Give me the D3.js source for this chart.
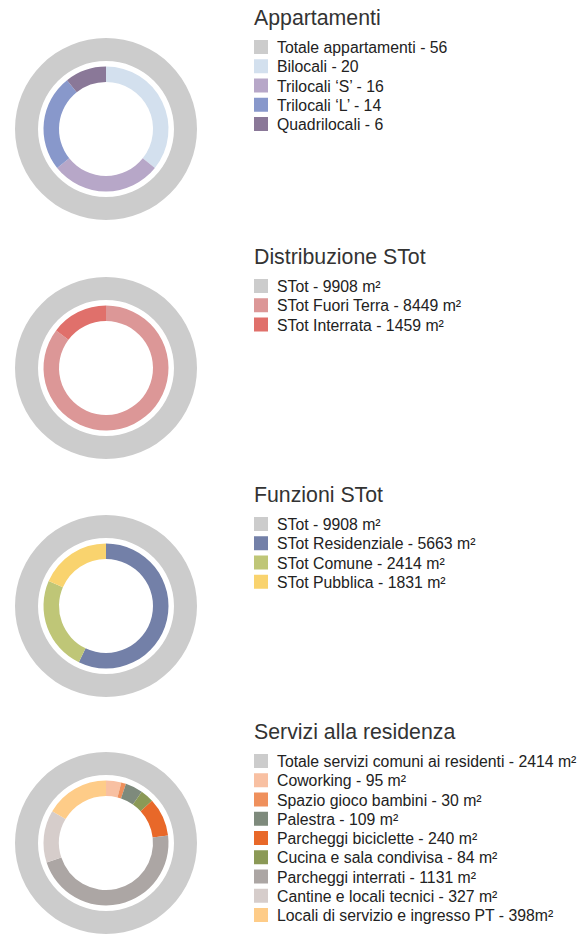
<!DOCTYPE html>
<html>
<head>
<meta charset="utf-8">
<script src="https://cdn.jsdelivr.net/npm/d3@7"></script>
<style>
  body { margin: 0; background: #fff; }
  svg { display: block; font-family: "Liberation Sans", Arial, sans-serif; }
</style>
</head>
<body>
<script>
// dati
const apptTitle = "Appartamenti";
const apptTotal = "Totale appartamenti - 56";
const apptLabels = ["Bilocali - 20", "Trilocali \u2018S\u2019 - 16", "Trilocali \u2018L\u2019 - 14", "Quadrilocali - 6"];
const apptValues = [20, 16, 14, 6];
const apptColors = ["#d3e0ee", "#b7a7c8", "#8898cb", "#8a7898"];

const distTitle = "Distribuzione STot";
const distTotal = "STot - 9908 m\u00b2";
const distLabels = ["STot Fuori Terra - 8449 m\u00b2", "STot Interrata - 1459 m\u00b2"];
const distValues = [8449, 1459];
const distColors = ["#dc9797", "#e0706b"];

const funzTitle = "Funzioni STot";
const funzTotal = "STot - 9908 m\u00b2";
const funzLabels = ["STot Residenziale - 5663 m\u00b2", "STot Comune - 2414 m\u00b2", "STot Pubblica - 1831 m\u00b2"];
const funzValues = [5663, 2414, 1831];
const funzColors = ["#7380a8", "#bfc677", "#f9d36e"];

const servTitle = "Servizi alla residenza";
const servTotal = "Totale servizi comuni ai residenti - 2414 m\u00b2";
const servLabels = ["Coworking - 95 m\u00b2", "Spazio gioco bambini - 30 m\u00b2", "Palestra - 109 m\u00b2",
  "Parcheggi biciclette - 240 m\u00b2", "Cucina e sala condivisa - 84 m\u00b2", "Parcheggi interrati - 1131 m\u00b2",
  "Cantine e locali tecnici - 327 m\u00b2", "Locali di servizio e ingresso PT - 398m\u00b2"];
const servValues = [95, 30, 109, 240, 84, 1131, 327, 398];
const servColors = ["#f8c0a2", "#ef905c", "#7e8a7c", "#e86829", "#8b9956", "#aca6a4", "#d6cdcb", "#fecc88"];
// nell'anello cucina viene prima dei parcheggi biciclette
const servRingOrder = [0, 1, 2, 4, 3, 5, 6, 7];

const totalColor = "#cccccc";

const width = 583, height = 936;
const cx = 106;
const centersY = [129, 368, 606, 843];

const panels = [
  { title: apptTitle, total: apptTotal, labels: apptLabels, values: apptValues, colors: apptColors, order: d3.range(apptValues.length) },
  { title: distTitle, total: distTotal, labels: distLabels, values: distValues, colors: distColors, order: d3.range(distValues.length) },
  { title: funzTitle, total: funzTotal, labels: funzLabels, values: funzValues, colors: funzColors, order: d3.range(funzValues.length) },
  { title: servTitle, total: servTotal, labels: servLabels, values: servValues, colors: servColors, order: servRingOrder }
];

const svg = d3.select("body").append("svg")
    .attr("width", width)
    .attr("height", height);

const outerArc = d3.arc().innerRadius(68).outerRadius(91);
const innerArc = d3.arc().innerRadius(47).outerRadius(62.5);
const pie = d3.pie().sort(null).value(d => d.value);

panels.forEach((p, i) => {
    const g = svg.append("g")
        .attr("transform", `translate(${cx},${centersY[i]})`);

    // anello esterno = totale
    g.append("path")
        .attr("d", outerArc({ startAngle: 0, endAngle: 2 * Math.PI }))
        .attr("fill", totalColor);

    const ringData = p.order.map(k => ({ value: p.values[k], color: p.colors[k] }));
    g.selectAll("path.slice")
        .data(pie(ringData))
        .enter().append("path")
        .attr("class", "slice")
        .attr("d", innerArc)
        .attr("fill", d => d.data.color);

    // legenda
    const lg = svg.append("g")
        .attr("transform", `translate(254,${centersY[i] - 104})`);

    lg.append("text")
        .attr("x", 0)
        .attr("y", 0)
        .attr("font-size", 21.3)
        .attr("fill", "#333")
        .text(p.title);

    const items = [{ label: p.total, color: totalColor }]
        .concat(p.labels.map((l, k) => ({ label: l, color: p.colors[k] })));

    const row = lg.selectAll("g.item")
        .data(items)
        .enter().append("g")
        .attr("class", "item")
        .attr("transform", (d, k) => `translate(0,${15 + k * 19.25})`);

    row.append("rect")
        .attr("width", 14)
        .attr("height", 14)
        .attr("fill", d => d.color);

    row.append("text")
        .attr("x", 23)
        .attr("y", 13)
        .attr("font-size", 15.8)
        .attr("fill", "#222")
        .text(d => d.label);
});
</script>
</body>
</html>
